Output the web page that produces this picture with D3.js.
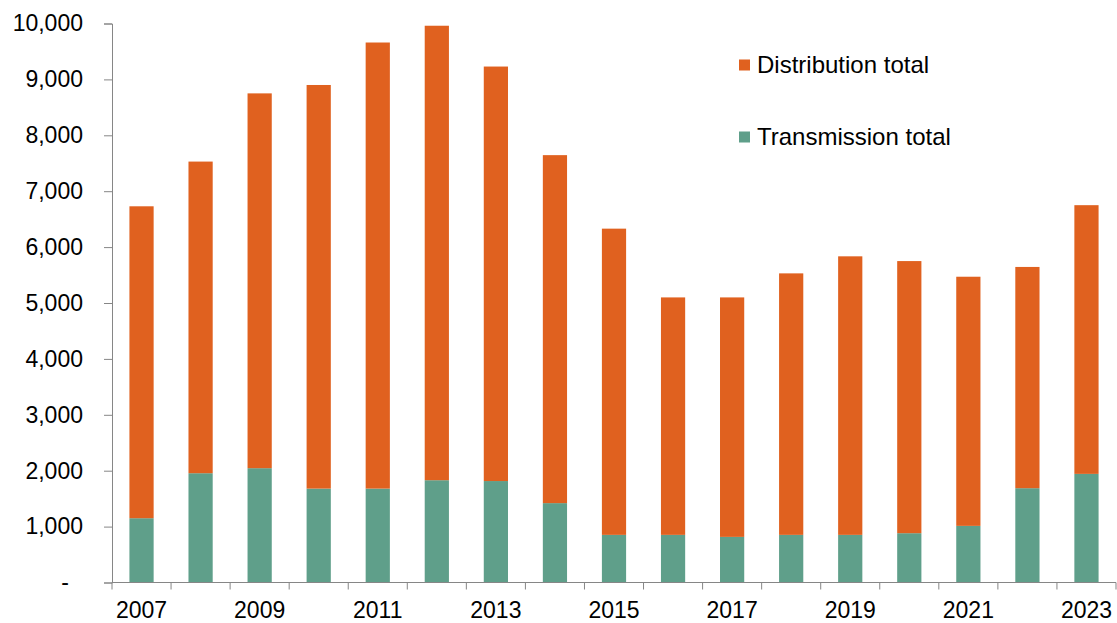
<!DOCTYPE html>
<html>
<head>
<meta charset="utf-8">
<script src="https://cdn.jsdelivr.net/npm/d3@7"></script>
<style>
  body { margin: 0; background: #fff; }
  text { font-family: Arial, "Liberation Sans", sans-serif; fill: #000; }
</style>
</head>
<body>
<div id="app"></div>
<script>
var years = ["2007","2008","2009","2010","2011","2012","2013","2014","2015",
             "2016","2017","2018","2019","2020","2021","2022","2023"];
// top of each stacked bar (distribution + transmission)
var totals = [6730, 7530, 8750, 8900, 9660, 9960, 9230, 7645, 6330,
              5100, 5100, 5530, 5835, 5750, 5470, 5645, 6750];
var transmission = [1150, 1955, 2045, 1680, 1680, 1830, 1815, 1420, 852,
                    852, 816, 852, 852, 882, 1013, 1687, 1943];
var distribution = totals.map(function(t, i) { return t - transmission[i]; });
var yTicks = [0, 1000, 2000, 3000, 4000, 5000, 6000, 7000, 8000, 9000, 10000];
var seriesNames = ["Distribution total", "Transmission total"];
var colors = {"Distribution total": "#E0611F", "Transmission total": "#5F9F8A"};

var width = 1117,
    height = 623;

var svg = d3.select("#app").append("svg")
    .attr("width", width)
    .attr("height", height);

var x = d3.scaleBand()
    .domain(years)
    .range([112, 1116]);

var y = d3.scaleLinear()
    .domain([0, 10000])
    .range([582.5, 23.5]);

var barW = x.bandwidth() * 0.41;

var rows = years.map(function(yr, i) {
    return {year: yr, "Transmission total": transmission[i], "Distribution total": distribution[i]};
});
var stack = d3.stack().keys(["Transmission total", "Distribution total"])(rows);

svg.append("g")
  .selectAll("g")
  .data(stack)
  .enter().append("g")
    .attr("fill", function(s) { return colors[s.key]; })
  .selectAll("rect")
  .data(function(s) { return s; })
  .enter().append("rect")
    .attr("x", function(d) { return x(d.data.year) + (x.bandwidth() - barW) / 2; })
    .attr("width", barW)
    .attr("y", function(d) { return y(d[1]); })
    .attr("height", function(d) { return y(d[0]) - y(d[1]); });

// y axis
var yAxis = svg.append("g")
    .attr("transform", "translate(112,0)")
    .call(d3.axisLeft(y)
        .tickValues(yTicks)
        .tickSize(8)
        .tickPadding(21)
        .tickFormat(function(d) { return d === 0 ? "-" : d3.format(",")(d); }));
yAxis.select(".domain").attr("stroke", "#868686");
yAxis.selectAll(".tick line").attr("stroke", "#868686");
yAxis.selectAll(".tick text")
    .style("font-size", "23px")
    .attr("fill", "#000");
yAxis.selectAll(".tick text").filter(function(d) { return d === 0; })
    .attr("dx", "-14");

// x axis: ticks at category boundaries, labels on every other year
var xg = svg.append("g");
xg.append("line")
    .attr("x1", 112).attr("x2", 1116)
    .attr("y1", y(0)).attr("y2", y(0))
    .attr("stroke", "#868686");
xg.selectAll(".xt")
    .data(years.concat(["end"]))
    .enter().append("line")
    .attr("x1", function(d, i) { return i < years.length ? x(d) : x.range()[1]; })
    .attr("x2", function(d, i) { return i < years.length ? x(d) : x.range()[1]; })
    .attr("y1", y(0)).attr("y2", y(0) + 7)
    .attr("stroke", "#868686");
xg.selectAll(".xl")
    .data(years.filter(function(d, i) { return i % 2 === 0; }))
    .enter().append("text")
    .attr("x", function(d) { return x(d) + x.bandwidth() / 2; })
    .attr("y", 618)
    .attr("text-anchor", "middle")
    .style("font-size", "23px")
    .text(function(d) { return d; });

// legend
var legend = svg.append("g")
    .selectAll("g")
    .data(seriesNames)
    .enter().append("g")
    .attr("transform", function(d, i) { return "translate(739," + (65 + i * 72) + ")"; });
legend.append("rect")
    .attr("x", 0).attr("y", -5.5)
    .attr("width", 11).attr("height", 11)
    .attr("fill", function(d) { return colors[d]; });
legend.append("text")
    .attr("x", 18)
    .attr("dy", "0.35em")
    .style("font-size", "24px")
    .text(function(d) { return d; });
</script>
</body>
</html>
